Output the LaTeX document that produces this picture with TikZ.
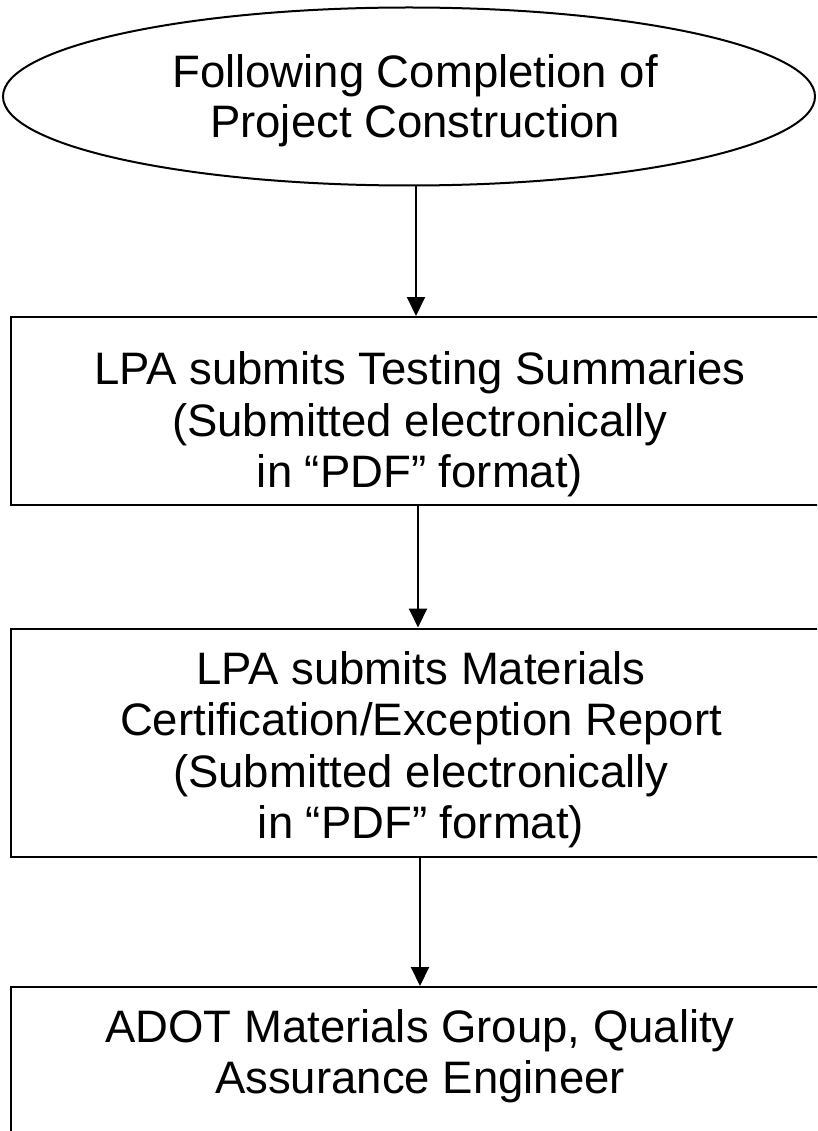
\documentclass[tikz,border=0pt]{standalone}
\usepackage{fontspec}
\setmainfont{Liberation Sans}
\usetikzlibrary{shapes.geometric,arrows.meta}
\tikzset{
  line/.style={line width=2pt, draw=black},
  boxnode/.style={line, rectangle, inner sep=0pt, minimum width=819pt},
  ovalnode/.style={line, ellipse, inner sep=0pt, minimum width=812pt, minimum height=178pt},
  txt/.style={align=center, inner sep=0pt, font=\fontsize{45.5}{51.5}\selectfont},
  arr/.style={line, -{Triangle[length=19pt,width=18pt]}}
}
\begin{document}
\begin{tikzpicture}[x=1pt,y=1pt]
\useasboundingbox (0,0) rectangle (817,-1131);
\clip (0,0) rectangle (817,-1131);
\fill[white] (0,0) rectangle (817,-1131);
% shapes
\node[ovalnode] (e) at (409,-96.5) {};
\node[boxnode, minimum height=188pt] (b1) at (420,-411) {};
\node[boxnode, minimum height=228pt] (b2) at (420,-742.5) {};
\node[boxnode, minimum height=170pt] (b3) at (420,-1072) {};
% texts
\node[txt, font=\fontsize{45.5}{50}\selectfont] (te) at (415,-101) {Following Completion of\\Project Construction};
\node[txt] (t1) at (420,-424.5) {LPA submits Testing Summaries\\(Submitted electronically\\in “PDF” format)};
\node[txt] (t2) at (421,-749.5) {LPA submits Materials\\Certification/Exception Report\\(Submitted electronically\\in “PDF” format)};
\node[txt] (t3) at (420,-1056) {ADOT Materials Group, Quality\\Assurance Engineer};
% connector x positions
\coordinate (x1) at (416,0);
\coordinate (x2) at (418,0);
\coordinate (x3) at (420,0);
\draw[arr] (e.south -| x1) -- (b1.north -| x1);
\draw[arr] (b1.south -| x2) -- (b2.north -| x2);
\draw[arr] (b2.south -| x3) -- (b3.north -| x3);
\end{tikzpicture}
\end{document}
